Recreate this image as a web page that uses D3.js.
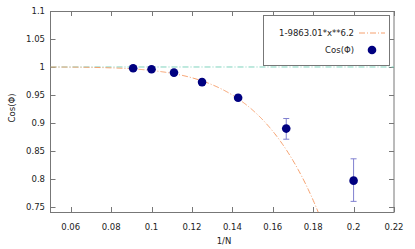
<!DOCTYPE html>
<html>
<head>
<meta charset="utf-8">
<script src="https://d3js.org/d3.v7.min.js"></script>
<style>
  body { margin: 0; background: #fff; }
  text { font-family: "DejaVu Sans", sans-serif; fill: #222; }
</style>
</head>
<body>
<svg id="chart" width="415" height="249"></svg>
<script>
// data
var invN   = [1/11, 1/10, 1/9, 1/8, 1/7, 1/6, 1/5];
var cosPhi = [0.9977, 0.996, 0.990, 0.973, 0.945, 0.890, 0.797];
var errLo  = [0.9977, 0.996, 0.990, 0.973, 0.940, 0.871, 0.760];
var errHi  = [0.9977, 0.996, 0.990, 0.973, 0.950, 0.908, 0.836];
var xTicks = [0.06, 0.08, 0.1, 0.12, 0.14, 0.16, 0.18, 0.2, 0.22];
var yTicks = [0.75, 0.8, 0.85, 0.9, 0.95, 1, 1.05, 1.1];
var fitA = 9863.01, fitP = 6.2;

var svg = d3.select("#chart");
var pLeft = 50.5, pRight = 394, pTop = 11, pBottom = 212;

var x = d3.scaleLinear().domain([0.05, 0.22]).range([pLeft, pRight]);
var y = d3.scaleLinear().domain([0.741, 1.1]).range([pBottom, pTop]);

// frame
svg.append("rect")
  .attr("x", pLeft).attr("y", pTop + 0.5)
  .attr("width", pRight - pLeft).attr("height", pBottom - pTop)
  .attr("fill", "none").attr("stroke", "#777").attr("stroke-width", 1);

// ticks (inward, mirrored)
var tk = 5;
xTicks.forEach(function(t) {
  var px = Math.round(x(t)) + 0.5;
  svg.append("line").attr("x1", px).attr("x2", px).attr("y1", pBottom).attr("y2", pBottom - tk).attr("stroke", "#777");
  svg.append("line").attr("x1", px).attr("x2", px).attr("y1", pTop).attr("y2", pTop + tk).attr("stroke", "#777");
  svg.append("text").attr("x", x(t)).attr("y", 230)
    .attr("text-anchor", "middle").style("font-size", "8.5px").text(d3.format("")(t));
});
yTicks.forEach(function(t) {
  var py = Math.round(y(t)) + 0.5;
  svg.append("line").attr("x1", pLeft).attr("x2", pLeft + tk).attr("y1", py).attr("y2", py).attr("stroke", "#777");
  svg.append("line").attr("x1", pRight).attr("x2", pRight - tk).attr("y1", py).attr("y2", py).attr("stroke", "#777");
  svg.append("text").attr("x", 45).attr("y", y(t) + 3)
    .attr("text-anchor", "end").style("font-size", "8.5px").text(d3.format("")(t));
});

// axis labels
svg.append("text").attr("x", 224).attr("y", 244).attr("text-anchor", "middle")
  .style("font-size", "8.5px").text("1/N");
svg.append("text").attr("transform", "translate(15,108) rotate(-90)")
  .attr("text-anchor", "middle").style("font-size", "8.5px").text("Cos(\u03A6)");

svg.append("clipPath").attr("id", "clip")
  .append("rect").attr("x", pLeft).attr("y", pTop).attr("width", pRight - pLeft).attr("height", pBottom - pTop);
var plot = svg.append("g").attr("clip-path", "url(#clip)");

// y = 1 reference line
plot.append("line")
  .attr("x1", pLeft).attr("x2", pRight).attr("y1", y(1)).attr("y2", y(1))
  .attr("stroke", "#7fd3bd").attr("stroke-width", 1).attr("stroke-dasharray", "6,2,1,2");

// fit curve
var fx = d3.range(0.05, 0.2, 0.0005);
plot.append("path")
  .datum(fx)
  .attr("fill", "none").attr("stroke", "#f5a06e").attr("stroke-width", 1)
  .attr("stroke-dasharray", "6,2,1,2")
  .attr("d", d3.line()
    .x(function(d) { return x(d); })
    .y(function(d) { return y(1 - fitA * Math.pow(d, fitP)); }));

// error bars
invN.forEach(function(v, i) {
  if (errHi[i] - errLo[i] < 0.001) return;
  var px = x(v);
  var g = plot.append("g").attr("stroke", "#8080d0").attr("stroke-width", 1);
  g.append("line").attr("x1", px).attr("x2", px).attr("y1", y(errLo[i])).attr("y2", y(errHi[i]));
  g.append("line").attr("x1", px - 3).attr("x2", px + 3).attr("y1", y(errLo[i])).attr("y2", y(errLo[i]));
  g.append("line").attr("x1", px - 3).attr("x2", px + 3).attr("y1", y(errHi[i])).attr("y2", y(errHi[i]));
});

// points
plot.selectAll("circle.pt")
  .data(invN)
  .enter().append("circle")
  .attr("class", "pt")
  .attr("cx", function(d) { return x(d); })
  .attr("cy", function(d, i) { return y(cosPhi[i]); })
  .attr("r", 4.3)
  .attr("fill", "#000080");

// legend
svg.append("rect").attr("x", 263.5).attr("y", 15.5).attr("width", 126).attr("height", 50)
  .attr("fill", "#fff").attr("stroke", "#777");
svg.append("text").attr("x", 354).attr("y", 36).attr("text-anchor", "end")
  .style("font-size", "8.5px").text("1-9863.01*x**6.2");
svg.append("line").attr("x1", 359).attr("x2", 385).attr("y1", 33).attr("y2", 33)
  .attr("stroke", "#f5a06e").attr("stroke-dasharray", "6,2,1,2");
svg.append("text").attr("x", 354).attr("y", 53).attr("text-anchor", "end")
  .style("font-size", "8.5px").text("Cos(\u03A6)");
svg.append("circle").attr("cx", 372).attr("cy", 50).attr("r", 4.3).attr("fill", "#000080");
</script>
</body>
</html>
